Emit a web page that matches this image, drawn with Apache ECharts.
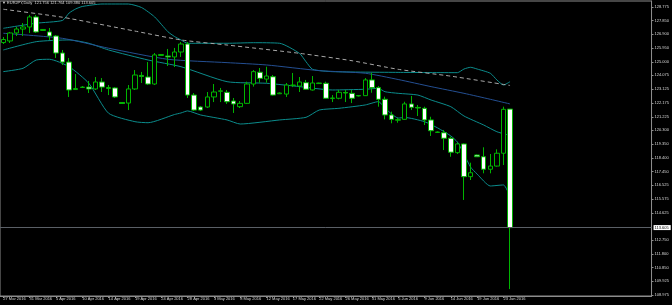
<!DOCTYPE html>
<html>
<head>
<meta charset="utf-8">
<script src="https://cdn.jsdelivr.net/npm/echarts@6/dist/echarts.min.js"></script>
<style>
html,body{margin:0;padding:0;background:#000;}
#c{width:672px;height:305px;}
</style>
</head>
<body>
<div id="c"></div>
<script>
const symbolName = 'EURJPY';
const timeframe = 'Daily';
const dates = [
'27 Mar 2016','28 Mar 2016','29 Mar 2016','30 Mar 2016','31 Mar 2016','1 Apr 2016',
'3 Apr 2016','4 Apr 2016','5 Apr 2016','6 Apr 2016','7 Apr 2016','8 Apr 2016',
'10 Apr 2016','11 Apr 2016','12 Apr 2016','13 Apr 2016','14 Apr 2016','15 Apr 2016',
'17 Apr 2016','18 Apr 2016','19 Apr 2016','20 Apr 2016','21 Apr 2016','22 Apr 2016',
'24 Apr 2016','25 Apr 2016','26 Apr 2016','27 Apr 2016','28 Apr 2016','29 Apr 2016',
'1 May 2016','2 May 2016','3 May 2016','4 May 2016','5 May 2016','6 May 2016',
'8 May 2016','9 May 2016','10 May 2016','11 May 2016','12 May 2016','13 May 2016',
'15 May 2016','16 May 2016','17 May 2016','18 May 2016','19 May 2016','20 May 2016',
'22 May 2016','23 May 2016','24 May 2016','25 May 2016','26 May 2016','27 May 2016',
'29 May 2016','30 May 2016','31 May 2016','1 Jun 2016','2 Jun 2016','3 Jun 2016',
'5 Jun 2016','6 Jun 2016','7 Jun 2016','8 Jun 2016','9 Jun 2016','10 Jun 2016',
'12 Jun 2016','13 Jun 2016','14 Jun 2016','15 Jun 2016','16 Jun 2016','17 Jun 2016',
'19 Jun 2016','20 Jun 2016','21 Jun 2016','22 Jun 2016','23 Jun 2016','24 Jun 2016'
];
const opens = [126.33,126.44,126.99,127.26,127.40,128.09,127.16,127.06,126.78,125.61,124.99,123.10,123.24,123.27,123.14,123.62,123.17,123.21,122.21,122.17,123.14,124.07,123.96,123.48,125.44,125.41,125.34,125.68,126.23,122.72,121.90,121.90,122.59,122.98,122.91,122.31,121.92,122.15,123.48,124.29,123.82,123.98,122.81,122.79,123.38,123.34,123.57,123.07,123.51,123.53,122.48,122.50,122.90,122.84,122.66,122.68,123.76,123.23,122.43,121.35,120.99,121.05,122.11,121.87,121.81,121.01,120.15,120.13,119.75,118.76,119.36,117.11,118.60,118.48,117.62,117.84,118.72,121.756];
const highs = [126.71,127.06,127.40,127.67,128.23,128.23,127.26,127.33,126.85,125.82,125.27,124.17,123.34,123.69,123.96,123.89,123.41,123.27,122.24,123.41,124.44,124.31,124.99,125.61,125.54,125.89,125.96,126.37,126.37,122.86,121.97,122.93,123.48,123.21,123.07,122.52,122.31,123.64,124.44,124.58,124.67,124.10,122.90,123.55,124.24,123.96,123.76,124.03,123.57,123.64,122.72,123.07,123.07,123.07,122.72,123.89,124.24,123.34,122.61,121.58,121.14,122.26,122.66,122.04,121.92,121.23,120.22,120.32,119.86,119.45,119.40,118.07,118.63,119.13,118.67,118.99,121.92,121.764];
const lows = [126.23,126.30,126.78,126.78,126.99,126.99,127.13,126.51,125.27,124.79,122.59,123.07,123.21,122.86,123.07,122.93,122.72,122.52,122.11,121.69,123.07,123.55,123.41,123.41,125.41,124.72,124.65,125.34,122.52,121.62,121.62,121.83,122.24,122.24,122.11,121.49,121.83,122.11,123.30,123.57,123.57,122.69,122.79,122.59,123.27,122.93,123.07,123.03,123.48,122.45,122.24,122.43,122.24,122.17,122.62,122.66,122.88,121.92,121.05,120.78,120.82,121.01,121.69,121.28,120.66,119.91,120.11,118.94,118.48,118.67,115.51,116.88,118.46,117.34,117.34,117.80,117.91,109.380];
const closes = [126.54,126.99,127.26,127.40,128.09,127.06,127.23,126.78,125.61,124.99,123.07,123.17,123.27,123.14,123.62,123.27,123.24,122.59,122.14,123.14,124.10,124.00,123.48,125.48,125.51,125.34,125.68,126.23,122.72,121.69,121.69,122.59,122.93,123.01,122.26,122.11,122.15,123.48,124.33,123.87,124.03,122.72,122.86,123.41,123.41,123.62,123.12,123.55,123.55,122.50,122.52,122.91,122.86,122.50,122.69,123.76,123.23,122.43,121.35,121.05,121.03,122.11,121.88,121.83,121.01,120.27,120.18,119.75,118.79,119.36,117.11,117.38,118.48,117.62,117.84,118.72,121.74,113.605];

// indicator lines: [bar index, price]
const upperBand = [[0,127.31],[5,127.66],[9,127.85],[10,128.36],[11,128.64],[12,128.81],[15,128.98],[19,128.98],[21,128.74],[23,128.09],[25,127.08],[26,126.75],[27,126.51],[28,126.28],[34,126.28],[38,126.32],[42,126.28],[45,125.59],[46,125.01],[47,124.49],[50,124.33],[60,124.28],[69,124.26],[70,124.51],[71,124.63],[72,124.51],[74,124.22],[75,123.76],[76,123.41],[77,123.64]];
const middleBand = [[0,125.82],[5,126.39],[10,126.51],[13,126.28],[16,125.82],[22,125.13],[27,124.67],[34,123.64],[40,123.53],[45,123.30],[50,123.07],[55,123.12],[57,123.18],[58,122.95],[60,122.84],[63,122.72],[65,122.38],[68,121.92],[70,121.28],[73,120.66],[75,120.20],[77,119.94]];
const lowerBand = [[0,124.33],[3,124.56],[5,125.13],[7,125.18],[10,124.67],[13,123.53],[16,121.47],[20,120.89],[22,120.82],[26,121.38],[27,121.49],[28,121.63],[30,121.35],[34,121.01],[36,120.73],[42,121.01],[46,121.19],[48,121.69],[51,121.81],[55,122.04],[57,122.27],[58,121.83],[59,121.42],[60,121.14],[61,121.18],[64,120.89],[66,120.46],[68,119.91],[69,119.49],[70,118.67],[71,117.77],[72,117.29],[74,116.47],[76,116.54],[77,115.73]];
const blueMA = [[0,126.97],[9,126.62],[16,125.94],[25,125.18],[34,124.95],[40,124.79],[48,124.40],[55,124.22],[60,123.79],[65,123.30],[70,122.84],[74,122.43],[77,122.11]];
const dashedMA = [[0,128.62],[9,128.07],[20,127.12],[27,126.51],[34,126.16],[45,125.59],[53,125.08],[60,124.49],[68,124.02],[77,123.38]];

const yTicks = [128.775,127.850,126.900,125.950,125.000,124.075,123.125,122.175,121.225,120.300,119.350,118.400,117.450,116.525,115.575,114.625,112.750,111.800,110.850,109.925,108.975];
const lastPrice = closes[closes.length - 1];

// layout
const shiftBars = 21;
const cats = dates.concat(new Array(shiftBars).fill(''));
const candleData = dates.map((d, i) => [opens[i], closes[i], lows[i], highs[i]]);
const n = dates.length;
const labelEvery = 4;
const showIdx = (i) => i < n && i % labelEvery === 0;
const FONT = 'Liberation Sans';
const GREEN = '#00b400';
const TEAL = '#0b8c8c';

const lineSeries = (data, color, type) => ({
  type: 'line', data: data, symbol: 'none', smooth: 0.2, connectNulls: true,
  lineStyle: {color: color, width: 1, type: type || 'solid'}, silent: true, z: 1
});

const last = n - 1;
const titleText = '\u25BC ' + symbolName + ',' + timeframe + '  ' +
  opens[last].toFixed(3) + ' ' + highs[last].toFixed(3) + ' ' + lows[last].toFixed(3) + ' ' + closes[last].toFixed(3);

const chart = echarts.init(document.getElementById('c'), null, {renderer: 'canvas'});
chart.setOption({
  backgroundColor: '#000',
  animation: false,
  title: {text: titleText, left: 2, top: 1, padding: 0,
    textStyle: {fontSize: 4, color: '#d8d8d8', fontWeight: 'normal', fontFamily: FONT}},
  grid: {left: -2, right: 18, top: 1, bottom: 9, show: true, borderColor: '#8c8c8c', borderWidth: 1, backgroundColor: 'transparent'},
  xAxis: {
    type: 'category', data: cats, boundaryGap: true,
    axisLine: {show: true, lineStyle: {color: '#8c8c8c', width: 1}},
    axisTick: {show: true, alignWithLabel: true, interval: (i) => showIdx(i), length: 2, lineStyle: {color: '#8c8c8c'}},
    axisLabel: {show: true, interval: (i) => showIdx(i), align: 'left', margin: 1, fontSize: 4,
      color: '#d8d8d8', fontFamily: FONT},
    splitLine: {show: false}
  },
  yAxis: {
    type: 'value', position: 'right', scale: true, min: 108.906, max: 129.187,
    axisLine: {show: true, lineStyle: {color: '#8c8c8c', width: 1}},
    axisTick: {show: true, customValues: yTicks, length: 2, inside: false, lineStyle: {color: '#8c8c8c'}},
    axisLabel: {show: true, customValues: yTicks, formatter: (v) => Number(v).toFixed(3), fontSize: 4,
      color: '#d8d8d8', margin: 3, fontFamily: FONT},
    splitLine: {show: false}
  },
  series: [
    lineSeries(upperBand, TEAL),
    lineSeries(middleBand, TEAL),
    lineSeries(lowerBand, TEAL),
    lineSeries(blueMA, '#244f92'),
    lineSeries(dashedMA, '#a8a8a8', [4, 3]),
    {
      type: 'candlestick', data: candleData, barWidth: 5, z: 3,
      itemStyle: {color: '#000', color0: '#fff', borderColor: GREEN, borderColor0: GREEN, borderWidth: 1},
      markLine: {
        silent: true, symbol: ['none', 'none'], animation: false,
        data: [{yAxis: lastPrice}],
        lineStyle: {color: '#5a5f66', type: 'solid', width: 1},
        label: {show: true, position: 'end', distance: 2, formatter: lastPrice.toFixed(3),
          backgroundColor: '#fff', color: '#000', fontSize: 4, padding: [1, 2, 0, 1], fontFamily: FONT}
      }
    }
  ]
});
</script>
</body>
</html>
